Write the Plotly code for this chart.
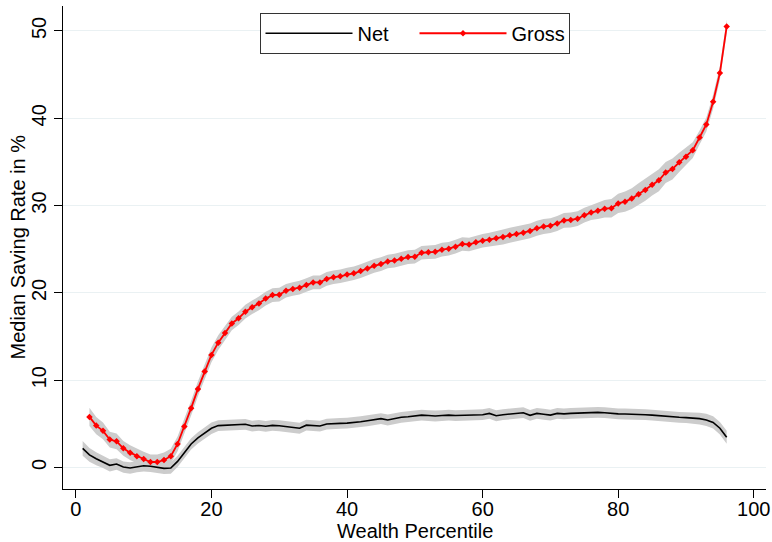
import plotly.graph_objects as go

# ---- data ----
net_x = list(range(1, 97))
net_y = [2.2, 1.45, 1.0, 0.65, 0.25, 0.4, 0.05, -0.05, 0.1, 0.2,
         0.15, 0.05, -0.1, -0.05, 0.7, 1.7, 2.7, 3.4, 4.0, 4.5,
         4.8, 4.85, 4.87, 4.9, 4.95, 4.75, 4.82, 4.72, 4.83, 4.78,
         4.67, 4.56, 4.5, 4.85, 4.83, 4.75, 4.98, 5.05, 5.06, 5.08,
         5.13, 5.25, 5.36, 5.5, 5.6, 5.44, 5.6, 5.75, 5.82, 5.9,
         6.0, 5.95, 5.9, 5.95, 6.0, 5.95, 5.98, 5.95, 6.0, 6.05,
         6.2, 5.93, 6.05, 6.13, 6.2, 6.28, 5.98, 6.2, 6.1, 6.0,
         6.2, 6.15, 6.2, 6.25, 6.28, 6.3, 6.32, 6.28, 6.2, 6.15,
         6.13, 6.13, 6.1, 6.05, 6.0, 5.92, 5.85, 5.78, 5.75, 5.72,
         5.7, 5.6, 5.45, 5.17, 4.5, 3.46]
net_ci = [0.85, 0.8, 0.75, 0.7, 0.7, 0.65, 0.65, 0.65, 0.65, 0.65,
          0.65, 0.65, 0.65, 0.65, 0.65, 0.65, 0.65, 0.65, 0.65, 0.65] + [0.62] * 70 + \
         [0.65, 0.68, 0.7, 0.7, 0.72, 0.75]

gross_x = list(range(2, 97))
gross_y = [5.8, 4.8, 4.2, 3.2, 3.0, 2.2, 1.7, 1.3, 0.97, 0.63,
           0.63, 0.86, 1.3, 2.7, 4.7, 6.8, 9.0, 11.0, 12.9, 14.3,
           15.4, 16.5, 17.1, 17.85, 18.35, 18.8, 19.35, 19.75, 19.8, 20.25,
           20.45, 20.6, 20.9, 21.2, 21.2, 21.6, 21.8, 21.9, 22.1, 22.25,
           22.5, 22.8, 23.1, 23.3, 23.6, 23.7, 23.9, 24.1, 24.15, 24.6,
           24.65, 24.7, 24.95, 25.06, 25.3, 25.6, 25.55, 25.8, 25.98, 26.1,
           26.25, 26.4, 26.6, 26.75, 26.9, 27.1, 27.4, 27.6, 27.7, 27.95,
           28.3, 28.35, 28.5, 28.9, 29.2, 29.4, 29.65, 29.7, 30.25, 30.45,
           30.8, 31.3, 31.8, 32.4, 32.9, 33.8, 34.2, 34.95, 35.6, 36.35,
           37.8, 39.3, 41.9, 45.2, 50.5]
gross_ci = [1.05, 1.0, 0.95, 0.9, 0.9, 0.85, 0.85, 0.85, 0.85, 0.85,
            0.85, 0.85, 0.85, 0.85, 0.85, 0.85, 0.85, 0.85, 0.85, 0.85] + [0.78] * 40 + \
           [0.85] * 15 + [0.95, 1.0, 1.05, 1.1, 1.15, 1.2, 1.25, 1.25, 1.25, 1.25,
                          1.2, 1.2, 1.1, 1.0, 0.9, 0.8, 0.8, 0.8, 0.8, 0.8]

x_ticks = [0, 20, 40, 60, 80, 100]
y_ticks = [0, 10, 20, 30, 40, 50]
x_title = "Wealth Percentile"
y_title = "Median Saving Rate in %"

BAND = "rgb(204,204,204)"
FONT = "Liberation Sans, Arial, sans-serif"

fig = go.Figure()

def band(x, y, ci):
    up = [a + b for a, b in zip(y, ci)]
    lo = [a - b for a, b in zip(y, ci)]
    fig.add_trace(go.Scatter(x=x, y=up, mode="lines", line=dict(width=0, color=BAND),
                             showlegend=False, hoverinfo="skip"))
    fig.add_trace(go.Scatter(x=x, y=lo, mode="lines", line=dict(width=0, color=BAND),
                             fill="tonexty", fillcolor=BAND, showlegend=False, hoverinfo="skip"))

band(gross_x, gross_y, gross_ci)
band(net_x, net_y, net_ci)

fig.add_trace(go.Scatter(x=net_x, y=net_y, mode="lines", name="Net",
                         line=dict(color="black", width=1.6)))
fig.add_trace(go.Scatter(x=gross_x, y=gross_y, mode="lines+markers", name="Gross",
                         line=dict(color="#ff0000", width=1.8),
                         marker=dict(symbol="diamond", size=5, color="#ff0000")))

fig.update_layout(
    width=772, height=542,
    margin=dict(l=63, r=6, t=6, b=53),
    paper_bgcolor="white", plot_bgcolor="white",
    font=dict(family=FONT, size=20, color="black"),
    showlegend=True,
    legend=dict(orientation="h", x=0.5, xanchor="center", y=0.986, yanchor="top",
                bordercolor="#333333", borderwidth=1, bgcolor="white",
                font=dict(size=20), itemwidth=87, entrywidth=52,
                traceorder="normal"),
    xaxis=dict(range=[-1.9, 101.8], tickvals=x_ticks, showgrid=False, zeroline=False,
               showline=True, linecolor="black", linewidth=1,
               ticks="outside", ticklen=8, tickcolor="black", automargin=False,
               ticklabelstandoff=-6),
    yaxis=dict(range=[-2.46, 52.86], tickvals=y_ticks, showgrid=True, gridcolor="#eaf1f3",
               gridwidth=1, zeroline=False, automargin=False,
               showline=True, linecolor="black", linewidth=1,
               ticks="outside", ticklen=8, tickcolor="black", tickangle=-90),
    annotations=[
        dict(text=x_title, xref="paper", yref="paper", x=0.5, y=-(531 - 489) / 483,
             xanchor="center", yanchor="middle", showarrow=False, font=dict(size=20)),
        dict(text=y_title, xref="paper", yref="paper", x=-(63 - 17) / 703, y=0.5,
             xanchor="center", yanchor="middle", textangle=-90, showarrow=False,
             font=dict(size=20)),
    ],
)

fig.write_html("out.html")
